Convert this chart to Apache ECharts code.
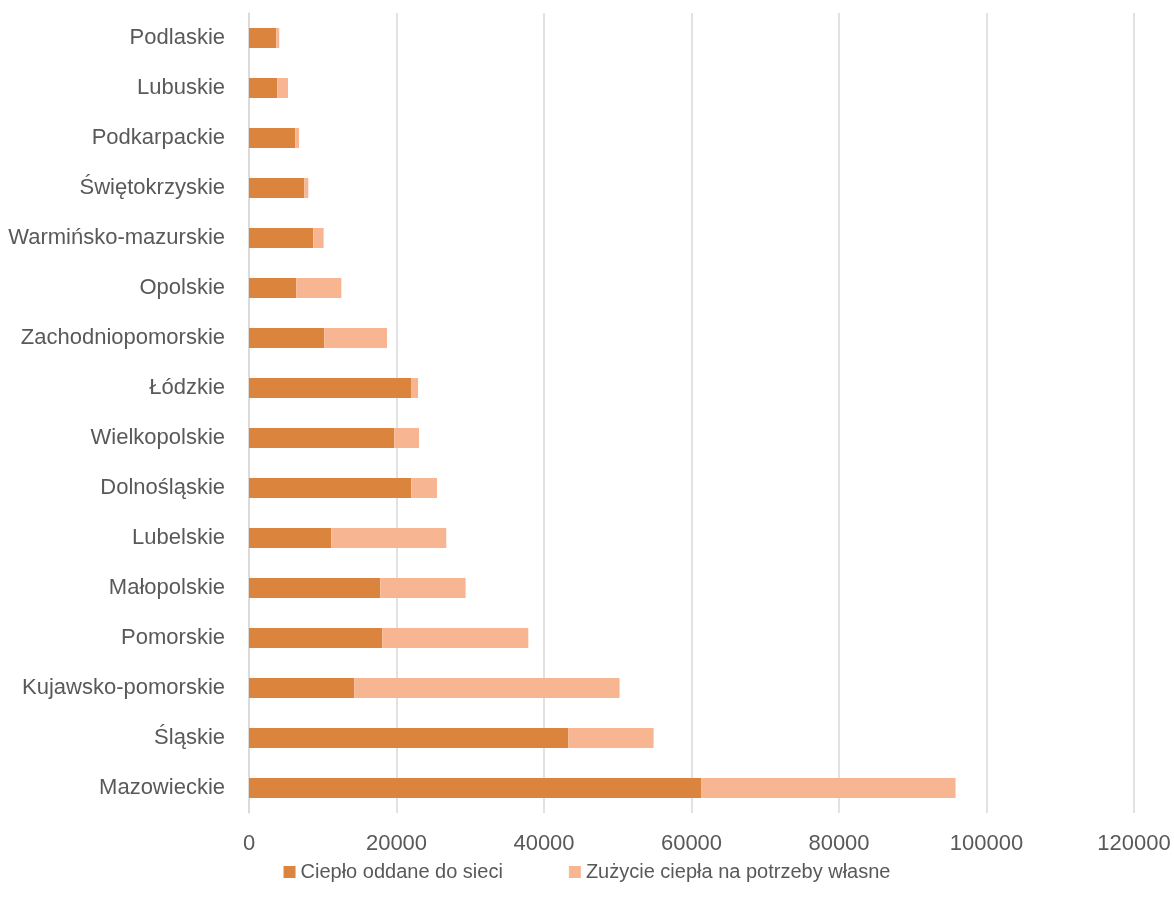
<!DOCTYPE html>
<html>
<head>
<meta charset="utf-8">
<script src="https://cdn.jsdelivr.net/npm/echarts@6/dist/echarts.min.js"></script>
<style>
  html, body { margin: 0; padding: 0; background: #fff; }
  #chart { width: 1174px; height: 909px; }
</style>
</head>
<body>
<div id="chart"></div>
<script>
// kolejnosc od dolu (Mazowieckie) do gory (Podlaskie)
const regions = [
  'Mazowieckie', 'Śląskie', 'Kujawsko-pomorskie', 'Pomorskie', 'Małopolskie',
  'Lubelskie', 'Dolnośląskie', 'Wielkopolskie', 'Łódzkie', 'Zachodniopomorskie',
  'Opolskie', 'Warmińsko-mazurskie', 'Świętokrzyskie', 'Podkarpackie', 'Lubuskie', 'Podlaskie'
];
const oddane = [61300, 43300, 14270, 18070, 17800, 11160, 22010, 19700, 21970, 10210, 6410, 8720, 7500, 6280, 3840, 3700];
const wlasne = [34500, 11560, 35980, 19800, 11570, 15590, 3480, 3350, 950, 8500, 6110, 1400, 540, 500, 1450, 400];
const xTicks = [0, 20000, 40000, 60000, 80000, 100000, 120000];

const font = 'Liberation Sans, Arial, sans-serif';

const getOption = () => {
  return {
    backgroundColor: '#ffffff',
    textStyle: { fontFamily: font },
    legend: {
      bottom: 22,
      left: 'center',
      itemWidth: 12,
      itemHeight: 12,
      itemGap: 66,
      icon: 'rect',
      textStyle: { color: '#595959', fontSize: 20, fontFamily: font },
      data: ['Ciepło oddane do sieci', 'Zużycie ciepła na potrzeby własne'],
    },
    grid: { left: 249, right: 40, top: 13, bottom: 96 },
    xAxis: {
      type: 'value',
      min: xTicks[0],
      max: xTicks[xTicks.length - 1],
      interval: 20000,
      axisLine: { show: false },
      axisTick: { show: false },
      splitLine: { lineStyle: { color: '#d9d9d9', width: 1.5 } },
      axisLabel: {
        color: '#595959', fontSize: 22, margin: 20, fontFamily: font,
        formatter: (v) => String(v),
      },
    },
    yAxis: {
      type: 'category',
      data: regions,
      axisLine: { show: true, lineStyle: { color: '#d9d9d9', width: 1.5 } },
      axisTick: { show: false },
      axisLabel: { color: '#595959', fontSize: 22, margin: 24, fontFamily: font },
    },
    series: [
      {
        name: 'Ciepło oddane do sieci',
        type: 'bar',
        stack: 'total',
        barWidth: 20,
        itemStyle: { color: '#db843e' },
        data: oddane,
      },
      {
        name: 'Zużycie ciepła na potrzeby własne',
        type: 'bar',
        stack: 'total',
        barWidth: 20,
        itemStyle: { color: '#f8b591' },
        data: wlasne,
      },
    ],
  };
};

const chart = echarts.init(document.getElementById('chart'));
chart.setOption(getOption());
</script>
</body>
</html>
